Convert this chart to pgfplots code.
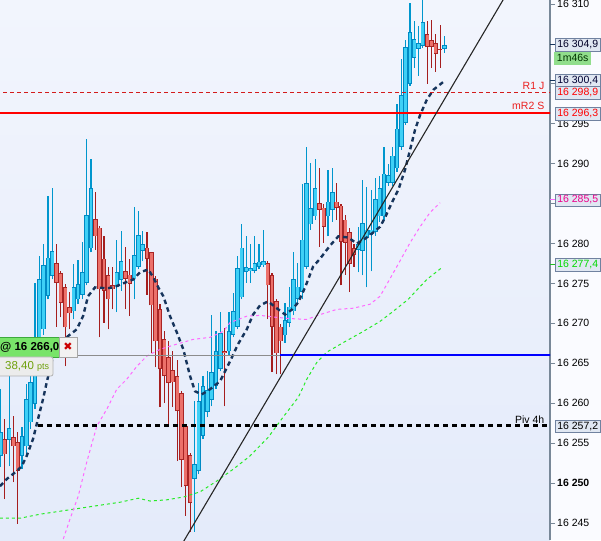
\documentclass[border=0pt]{standalone}
\usepackage{pgfplots}
\pgfplotsset{compat=1.18}
\usepackage{pgfplotstable}
\usepackage{fontspec}
\setmainfont{Liberation Sans}
\newfontfamily\dejavu{DejaVu Sans}

\definecolor{bgtop}{RGB}{242,245,253}
\definecolor{bgbot}{RGB}{228,235,250}
\definecolor{rightbg}{RGB}{250,251,255}
\definecolor{upfill}{RGB}{62,208,246}
\definecolor{upedge}{RGB}{0,138,196}
\definecolor{upwick}{RGB}{0,150,205}
\definecolor{dnfill}{RGB}{236,112,106}
\definecolor{dnedge}{RGB}{168,36,36}
\definecolor{dnwick}{RGB}{165,30,30}
\definecolor{navyma}{RGB}{22,52,92}
\definecolor{pinkma}{RGB}{255,105,255}
\definecolor{greenma}{RGB}{40,235,40}
\definecolor{axisgray}{RGB}{120,136,152}
\definecolor{boxedge}{RGB}{112,130,160}
\definecolor{boxfill}{RGB}{224,231,242}
\definecolor{rcol}{RGB}{235,30,30}
\definecolor{lblue}{RGB}{0,0,255}
\definecolor{grayline}{RGB}{140,140,140}
\definecolor{boxgreen}{RGB}{120,228,105}
\definecolor{boxgreenedge}{RGB}{60,170,60}
\definecolor{ptsgreen}{RGB}{110,160,10}
\definecolor{timegreen}{RGB}{145,222,140}

\pgfplotstableread{
k O H L C
0 16253.4 16261.75 16252.0 16256.4
1 16255.5 16258.0 16248.0 16253.6
2 16255.4 16263.4 16252.1 16256.9
3 16255.75 16258.4 16250.1 16254.6
4 16255.1 16256.4 16244.9 16251.5
5 16253.4 16257.0 16251.75 16255.9
6 16254.6 16262.4 16253.6 16260.5
7 16257.6 16264.25 16256.75 16262.6
8 16259.9 16275.0 16259.25 16265.5
9 16265.25 16278.4 16264.75 16275.5
10 16269.25 16280.0 16268.6 16277.25
11 16273.4 16285.9 16273.0 16278.25
12 16275.9 16286.9 16275.5 16279.1
13 16277.5 16279.9 16269.6 16275.1
14 16276.25 16276.6 16270.75 16272.6
15 16274.5 16274.9 16264.6 16269.5
16 16272.0 16273.9 16269.25 16271.25
17 16271.5 16277.4 16270.5 16274.5
18 16273.0 16277.9 16272.4 16274.9
19 16273.6 16280.25 16273.0 16276.4
20 16275.1 16293.1 16274.75 16283.6
21 16279.4 16290.6 16278.9 16286.9
22 16283.1 16286.4 16279.25 16280.9
23 16282.0 16282.25 16268.25 16274.25
24 16278.1 16281.0 16270.1 16274.1
25 16276.0 16277.1 16269.25 16273.0
26 16274.75 16277.1 16271.75 16274.25
27 16274.5 16280.4 16271.4 16276.4
28 16275.4 16281.6 16274.1 16277.75
29 16276.5 16279.6 16271.75 16275.6
30 16276.1 16278.1 16270.9 16274.9
31 16275.5 16284.6 16273.0 16278.6
32 16277.1 16284.1 16276.75 16281.1
33 16279.1 16281.6 16277.75 16279.9
34 16279.5 16281.5 16273.6 16278.1
35 16278.9 16279.0 16266.25 16272.25
36 16275.6 16275.9 16264.5 16267.75
37 16271.75 16272.4 16259.5 16264.25
38 16268.0 16269.0 16260.0 16263.4
39 16265.75 16267.75 16257.1 16262.5
40 16264.1 16266.5 16259.5 16262.6
41 16263.4 16265.4 16252.75 16259.0
42 16261.25 16261.5 16249.5 16252.9
43 16257.1 16257.4 16245.9 16249.6
44 16253.5 16253.75 16243.9 16247.5
45 16250.5 16260.25 16243.9 16252.4
46 16251.5 16262.5 16251.1 16260.25
47 16255.9 16263.4 16255.5 16262.1
48 16258.9 16264.0 16258.25 16261.6
49 16260.4 16271.0 16259.6 16263.9
50 16262.1 16269.0 16261.75 16266.5
51 16264.25 16271.4 16264.0 16268.75
52 16266.5 16269.4 16259.6 16266.25
53 16266.5 16271.4 16266.1 16269.0
54 16268.6 16273.75 16268.25 16271.5
55 16269.6 16278.4 16269.25 16276.9
56 16273.25 16282.4 16273.0 16279.5
57 16276.4 16281.0 16275.1 16277.0
58 16276.5 16280.0 16275.1 16276.9
59 16276.6 16280.9 16276.25 16277.5
60 16277.1 16280.0 16276.75 16277.75
61 16277.25 16281.75 16277.0 16277.75
62 16277.6 16277.75 16270.5 16274.75
63 16276.0 16276.25 16263.9 16269.6
64 16272.75 16273.0 16263.6 16266.25
65 16269.6 16269.9 16263.6 16267.75
66 16268.5 16272.6 16267.6 16270.4
67 16270.1 16274.5 16269.5 16272.1
68 16271.5 16279.0 16271.0 16275.5
69 16273.1 16277.5 16272.6 16274.6
70 16273.9 16287.4 16273.0 16280.5
71 16277.1 16292.1 16276.75 16287.6
72 16282.4 16290.1 16281.75 16284.4
73 16283.4 16290.6 16283.0 16286.9
74 16285.1 16289.4 16279.6 16284.25
75 16284.5 16284.9 16280.1 16282.1
76 16283.4 16289.25 16280.9 16285.25
77 16284.25 16289.4 16282.75 16286.4
78 16285.25 16287.6 16283.0 16284.5
79 16284.75 16285.0 16274.75 16280.25
80 16283.0 16283.6 16276.1 16280.1
81 16281.4 16281.9 16273.9 16277.4
82 16279.4 16280.0 16277.1 16278.6
83 16279.25 16282.1 16276.4 16279.9
84 16279.1 16287.9 16276.0 16282.6
85 16280.75 16287.1 16274.5 16281.75
86 16281.1 16286.75 16276.5 16281.75
87 16281.5 16288.25 16281.0 16285.6
88 16283.4 16288.4 16282.75 16286.9
89 16283.4 16292.1 16283.0 16288.75
90 16287.6 16289.9 16287.25 16288.6
91 16287.6 16292.1 16287.25 16291.0
92 16289.4 16297.5 16289.0 16294.4
93 16292.1 16303.1 16291.75 16298.6
94 16295.1 16305.5 16294.9 16304.6
95 16300.0 16310.1 16299.75 16306.5
96 16303.25 16307.9 16302.0 16305.6
97 16304.4 16307.25 16301.0 16305.1
98 16304.75 16310.5 16304.5 16307.75
99 16306.25 16307.9 16300.0 16304.6
100 16305.5 16308.0 16302.0 16304.6
101 16305.1 16306.25 16301.5 16303.75
102 16304.4 16307.4 16302.0 16304.25
103 16304.4 16306.0 16303.9 16304.9
}\candles

\pgfplotsset{
  ebar/.style n args={2}{draw=none, no markers,
    error bars/y dir=plus, error bars/y explicit, error bars/error mark=none,
    error bars/error bar style={/tikz/draw=#1, /tikz/line width=#2, /tikz/line cap=butt, /tikz/solid}},
  upsel/.style={restrict expr to domain={\thisrow{C}-\thisrow{O}}{0:1000}},
  dnsel/.style={restrict expr to domain={\thisrow{O}-\thisrow{C}}{0:1000}},
}

\tikzset{
  valbox/.style={draw=boxedge, fill=boxfill, anchor=west, inner xsep=1.5pt, inner ysep=0pt,
    minimum height=12.5pt, minimum width=45pt, font=\fontsize{10.5}{12}\selectfont},
}

\begin{document}
\begin{tikzpicture}[x=1pt,y=1pt]
\useasboundingbox (0,0) rectangle (601,540);
\fill[rightbg] (0,0) rectangle (601,540);
\begin{axis}[
  at={(0,0)}, anchor=south west,
  width=550pt, height=540pt, scale only axis,
  xmin=-0.116, xmax=127.5, ymin=16242.87, ymax=16310.5,
  axis background/.style={top color=bgtop, bottom color=bgbot},
  axis x line=none, axis y line*=right,
  axis line style={-, draw=axisgray, line width=1.3pt},
  xtick=\empty,
  ytick={16245,16250,...,16310},
  yticklabels={16 245,\textbf{16 250},16 255,16 260,16 265,16 270,16 275,16 280,{},16 290,16 295,{},{},16 310},
  yticklabel pos=right,
  tick align=outside, major tick length=5pt,
  ytick style={draw=axisgray, line width=0.8pt},
  yticklabel style={anchor=west, font=\fontsize{10.5}{12}\selectfont, inner sep=0pt, xshift=2pt},
]
% wicks
\addplot[ebar={upwick}{1.2pt}, upsel] table[x=k, y=L, y error expr={\thisrow{H}-\thisrow{L}}] {\candles};
\addplot[ebar={dnwick}{1.2pt}, dnsel] table[x=k, y=L, y error expr={\thisrow{H}-\thisrow{L}}] {\candles};
% bodies: edge then fill
\addplot[ebar={upedge}{4.4pt}, upsel] table[x=k, y=O, y error expr={\thisrow{C}-\thisrow{O}}] {\candles};
\addplot[ebar={upfill}{2.8pt}, upsel] table[x=k, y expr={\thisrow{O}+0.1}, y error expr={max(\thisrow{C}-\thisrow{O}-0.2,0)}] {\candles};
\addplot[ebar={dnedge}{4.4pt}, dnsel] table[x=k, y=C, y error expr={\thisrow{O}-\thisrow{C}}] {\candles};
\addplot[ebar={dnfill}{2.8pt}, dnsel] table[x=k, y expr={\thisrow{C}+0.1}, y error expr={max(\thisrow{O}-\thisrow{C}-0.2,0)}] {\candles};

% green moving average
\addplot[greenma, line width=1pt, dash pattern=on 3pt off 3pt] coordinates {
(-0.12,16245.6) (4.53,16245.6) (9.17,16246.1) (15.36,16246.6) (21.54,16247.1) (27.73,16247.6)
(31.98,16248.1) (34.70,16247.75) (38.57,16247.9) (42.42,16248.25) (46.30,16248.9) (50.17,16250.25)
(54.03,16251.75) (57.90,16253.4) (62.15,16255.75) (65.56,16258.25) (69.11,16260.75) (71.06,16263.0)
(73.38,16265.1) (75.70,16266.4) (79.55,16267.6) (84.20,16269.0) (88.07,16270.25) (90.86,16271.4)
(94.58,16273.0) (98.91,16275.5) (102.69,16277.1)};

% pink moving average
\addplot[pinkma, line width=1pt, dash pattern=on 3pt off 3pt] coordinates {
(14.57,16243.0) (16.13,16245.5) (18.06,16248.4) (20.00,16252.6) (22.33,16257.1) (24.65,16259.25)
(26.97,16261.75) (29.29,16263.0) (31.61,16264.6) (33.93,16265.9) (37.02,16266.75) (40.89,16267.4)
(44.74,16268.0) (48.62,16268.25) (51.71,16269.0) (53.26,16270.1) (57.14,16270.9) (60.22,16271.0)
(64.10,16270.75) (67.19,16270.6) (71.06,16270.5) (74.15,16271.1) (78.02,16271.75) (81.87,16271.9)
(85.75,16272.4) (88.07,16273.4) (91.95,16277.1) (95.03,16280.1) (97.36,16282.1) (99.68,16283.9)
(101.99,16285.1)};

% navy moving average
\addplot[navyma, line width=2.4pt, dash pattern=on 4.5pt off 3.5pt] coordinates {
(-0.12,16249.6) (1.44,16250.5) (3.76,16251.5) (4.92,16252.1) (6.08,16253.4) (7.54,16255.5)
(8.70,16258.0) (9.86,16260.5) (10.72,16262.6) (12.18,16265.9) (13.81,16267.4) (15.66,16268.4)
(17.68,16269.25) (19.15,16270.9) (20.31,16273.4) (21.93,16274.5) (24.65,16274.4) (26.18,16274.5)
(28.89,16275.1) (30.82,16275.5) (32.37,16276.4) (34.30,16276.75) (35.46,16275.75) (36.62,16274.5)
(37.78,16273.4) (39.34,16270.9) (40.89,16268.9) (42.42,16266.75) (43.98,16263.4) (45.14,16261.5)
(46.69,16261.1) (48.62,16261.75) (50.94,16262.75) (53.26,16265.25) (55.12,16267.4) (57.14,16269.25)
(58.60,16271.1) (60.22,16272.25) (62.08,16272.75) (64.10,16271.9) (66.03,16271.1) (67.65,16271.75)
(69.04,16272.6) (70.67,16274.5) (72.52,16277.1) (74.15,16278.1) (76.47,16279.75) (78.39,16280.9)
(80.71,16280.75) (82.66,16280.0) (84.59,16280.6) (86.52,16281.4) (88.07,16282.1) (89.23,16283.25)
(90.79,16285.1) (92.32,16286.75) (93.87,16289.25) (95.43,16292.6) (96.19,16294.25) (97.36,16296.1)
(98.91,16298.0) (100.44,16299.25) (102.76,16300.25)};

% levels
\addplot[rcol!90!black, line width=1pt, dash pattern=on 4pt off 3pt] coordinates {(-1,16298.9) (128,16298.9)};
\addplot[red, line width=2pt] coordinates {(-1,16296.3) (128,16296.3)};
\addplot[grayline, line width=1.2pt] coordinates {(-1,16266.0) (64.9,16266.0)};
\addplot[lblue, line width=2pt] coordinates {(64.9,16266.1) (128,16266.1)};
\addplot[black, line width=2.2pt, dash pattern=on 5pt off 4pt] coordinates {(8.7,16257.2) (128,16257.2)};
% trend line
\addplot[black!85, line width=1.1pt] coordinates {(40,16240.42) (120,16313.61)};
\end{axis}

% level labels
\node[anchor=south east, inner sep=0.5pt, text=rcol, font=\fontsize{10.5}{12}\selectfont] at (545,450) {R1 J};
\node[anchor=south east, inner sep=0.5pt, text=rcol, font=\fontsize{10.5}{12}\selectfont] at (545,429.5) {mR2 S};
\node[anchor=south east, inner sep=0.5pt, text=black, font=\fontsize{10.5}{12}\selectfont] at (545,116) {Piv 4h};

% small ticks of value boxes
\draw[navyma, line width=1pt] (550,495.1) -- (556,495.1);
\draw[navyma, line width=1pt] (550,459.2) -- (556,459.2);
\draw[pinkma, line width=1pt] (550,340.0) -- (556,340.0);
\draw[greenma!80!black, line width=1pt] (550,275.2) -- (556,275.2);

% value boxes
\node[valbox, text=black!85!blue] at (555,495.1) {16 304,9};
\node[anchor=north west, fill=timegreen, minimum width=37pt, minimum height=13pt, inner sep=0.5pt,
      font=\fontsize{10.5}{12}\selectfont, text=black!80!green] at (554,488.5) {1m46s};
\node[valbox, text=black!80!blue] at (555,459.2) {16 300,4};
\node[valbox, text=red] at (555,447.2) {16 298,9};
\node[valbox, text=red] at (555,426.4) {16 296,3};
\node[valbox, text=magenta] at (555,340.0) {16 285,5};
\node[valbox, text=green!85!black] at (555,275.2) {16 277,4};
\node[valbox, text=black] at (555,113.6) {16 257,2};

% order box on the left
\draw[boxgreenedge, fill=boxgreen, line width=0.8pt] (-3,203) rectangle (59,183);
\node[anchor=west, inner sep=0pt, font=\bfseries\fontsize{11.5}{12}\selectfont] at (0,193) {@ 16 266,0};
\draw[gray!70, fill=gray!10, line width=0.8pt] (59,203) rectangle (77,183);
\node[inner sep=0pt, text=red!80!black, font=\dejavu\bfseries\fontsize{11}{12}\selectfont] at (68,193) {✖};
\draw[gray!60, fill=white!85!gray, line width=0.8pt, rounded corners=2pt] (-3,183) rectangle (53,164);
\node[anchor=west, inner sep=0pt, text=ptsgreen] at (5,173.5) {\fontsize{11.5}{12}\selectfont 38,40 \fontsize{9}{10}\selectfont pts};
\end{tikzpicture}
\end{document}
